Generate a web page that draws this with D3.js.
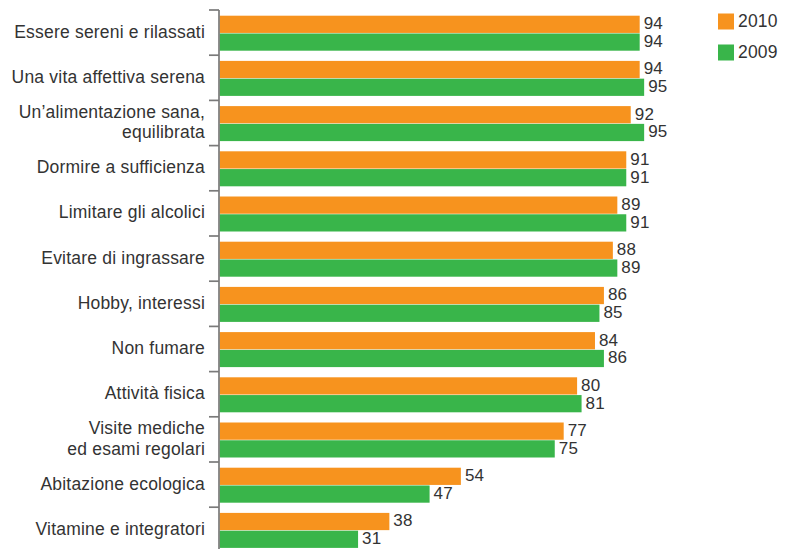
<!DOCTYPE html>
<html>
<head>
<meta charset="utf-8">
<script src="https://cdn.jsdelivr.net/npm/d3@7"></script>
<style>
  html, body { margin: 0; padding: 0; background: #fff; }
  svg { display: block; font-family: "Liberation Sans", Arial, Helvetica, sans-serif; }
</style>
</head>
<body>
<svg id="chart" width="790" height="549"></svg>
<script>
// Categories (each entry is a list of text lines)
const categories = [
  ["Essere sereni e rilassati"],
  ["Una vita affettiva serena"],
  ["Un\u2019alimentazione sana,", "equilibrata"],
  ["Dormire a sufficienza"],
  ["Limitare gli alcolici"],
  ["Evitare di ingrassare"],
  ["Hobby, interessi"],
  ["Non fumare"],
  ["Attivit\u00e0 fisica"],
  ["Visite mediche", "ed esami regolari"],
  ["Abitazione ecologica"],
  ["Vitamine e integratori"]
];
const seriesNames = ["2010", "2009"];
const values2010 = [94, 94, 92, 91, 89, 88, 86, 84, 80, 77, 54, 38];
const values2009 = [94, 95, 95, 91, 91, 89, 85, 86, 81, 75, 47, 31];
const colors = ["#F7931E", "#39B54A"];

const fontSize = 17.5;
const valueFontSize = 17;
const textColor = "#333";

const svg = d3.select("#chart");
const axisX = 219.5;
const plotTop = 10;
const step = 45.2;

const y = d3.scaleBand()
  .domain(d3.range(categories.length))
  .range([plotTop, plotTop + step * categories.length])
  .paddingInner(0).paddingOuter(0);

const x = d3.scaleLinear().domain([0, 100]).range([axisX, axisX + 447]);

const sub = d3.scaleBand().domain(seriesNames).range([5.7, 5.7 + 35]).paddingInner(0.03);

const series = [values2010, values2009];

const groups = svg.append("g").selectAll("g")
  .data(categories)
  .join("g")
  .attr("transform", (d, i) => `translate(0,${y(i)})`);

seriesNames.forEach((name, s) => {
  groups.append("rect")
    .attr("x", x(0))
    .attr("y", sub(name))
    .attr("width", (d, i) => x(series[s][i]) - x(0))
    .attr("height", sub.bandwidth())
    .attr("fill", colors[s]);
  groups.append("text")
    .attr("x", (d, i) => x(series[s][i]) + 4)
    .attr("y", sub(name) + sub.bandwidth() / 2 - 1.2)
    .attr("dy", "0.36em")
    .attr("font-size", valueFontSize)
    .attr("letter-spacing", 0.2)
    .attr("fill", textColor)
    .text((d, i) => series[s][i]);
});

// Category labels
groups.append("text")
  .attr("text-anchor", "end")
  .attr("font-size", fontSize)
  .attr("letter-spacing", 0.2)
  .attr("fill", textColor)
  .each(function (d) {
    const t = d3.select(this);
    const lh = 20.7;
    const start = step / 2 - (d.length - 1) * lh / 2 - 1.2;
    d.forEach((line, k) => {
      t.append("tspan").attr("x", 205).attr("y", start + k * lh).attr("dy", "0.36em").text(line);
    });
  });

// Vertical axis with ticks between categories
const axis = svg.append("g").attr("stroke", "#7a7a7a").attr("stroke-width", 1.7);
axis.append("line").attr("x1", axisX - 0.5).attr("x2", axisX - 0.5).attr("y1", plotTop).attr("y2", 549);
axis.selectAll("line.tick")
  .data(d3.range(categories.length + 1))
  .join("line")
  .attr("class", "tick")
  .attr("x1", 209).attr("x2", axisX - 0.5)
  .attr("y1", i => plotTop + i * step).attr("y2", i => plotTop + i * step);

// Legend
const legend = svg.append("g").selectAll("g")
  .data(seriesNames)
  .join("g")
  .attr("transform", (d, i) => `translate(718,${13.5 + i * 31})`);
legend.append("rect").attr("width", 16).attr("height", 16).attr("fill", (d, i) => colors[i]);
legend.append("text").attr("x", 20).attr("y", 7).attr("dy", "0.36em")
  .attr("font-size", fontSize).attr("letter-spacing", 0.2).attr("fill", textColor).text(d => d);
</script>
</body>
</html>
